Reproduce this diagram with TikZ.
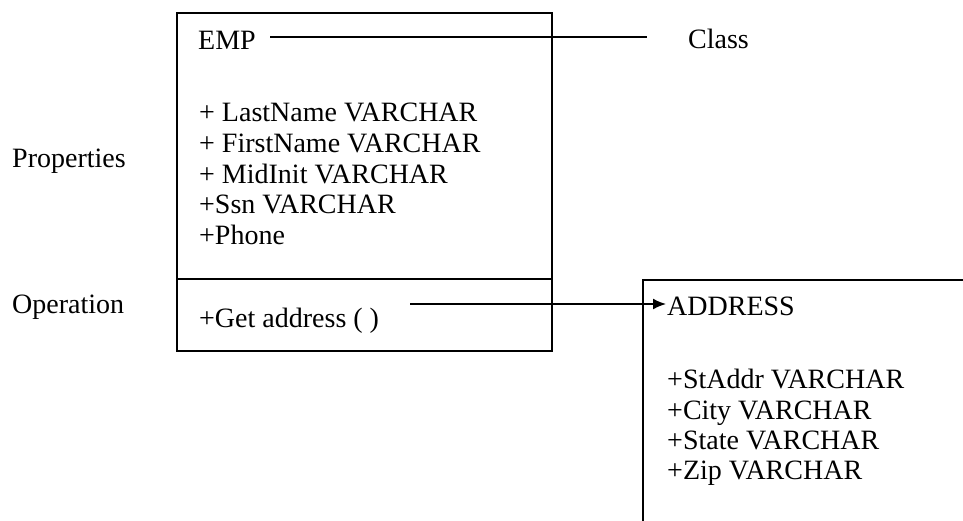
\documentclass[tikz,border=0pt]{standalone}
\usepackage{fontspec}
\setmainfont{Liberation Serif}
\usetikzlibrary{arrows.meta}
\begin{document}
\begin{tikzpicture}[x=1pt,y=-1pt,
  txt/.style={anchor=base west,inner sep=0pt,font=\fontsize{28}{30}\selectfont},
  edge/.style={line width=1.7pt,line cap=rect},
  link/.style={line width=1.7pt}]
\useasboundingbox (0,0) rectangle (963,520);

% EMP class box with its operation compartment
\coordinate (empNW) at (177,13);
\coordinate (empSE) at (552,351);
\draw[edge] (empNW) rectangle (empSE);
\coordinate (divL) at (177,279);
\coordinate (divR) at (552,279);
\draw[edge] (divL) -- (divR);

\node[txt] (emp) at (198,49) {EMP};
\node[txt] (f1) at (199,121) {+ LastName VARCHAR};
\node[txt] (f2) at (199,152) {+ FirstName VARCHAR};
\node[txt] (f3) at (199,183) {+ MidInit VARCHAR};
\node[txt] (f4) at (199,213) {+Ssn VARCHAR};
\node[txt] (f5) at (199,244) {+Phone};
\node[txt] (op) at (199,327) {+Get address ( )};

% side labels
\node[txt] (props) at (12,167) {Properties};
\node[txt] (oper) at (12,313) {Operation};
\node[txt] (cls) at (688,48) {Class};

% ADDRESS class box, open to the right and below
\coordinate (adrTop) at (643,280);
\coordinate (adrTR) at (963,280);
\coordinate (adrBot) at (643,520);
\draw[edge] (adrTR) -- (adrTop) -- (adrBot);

\node[txt] (adr) at (667,315) {ADDRESS};
\node[txt] (a1) at (667,388) {+StAddr VARCHAR};
\node[txt] (a2) at (667,419) {+City VARCHAR};
\node[txt] (a3) at (667,449) {+State VARCHAR};
\node[txt] (a4) at (667,479) {+Zip VARCHAR};

% connectors
\coordinate (clsFrom) at (270,37);
\coordinate (clsTo) at (647,37);
\draw[link] (clsFrom) -- (clsTo);

\coordinate (opFrom) at (410,304);
\coordinate (opTo) at (666,304);
\draw[link,-{Latex[length=13pt,width=11pt]}] (opFrom) -- (opTo);
\end{tikzpicture}
\end{document}
